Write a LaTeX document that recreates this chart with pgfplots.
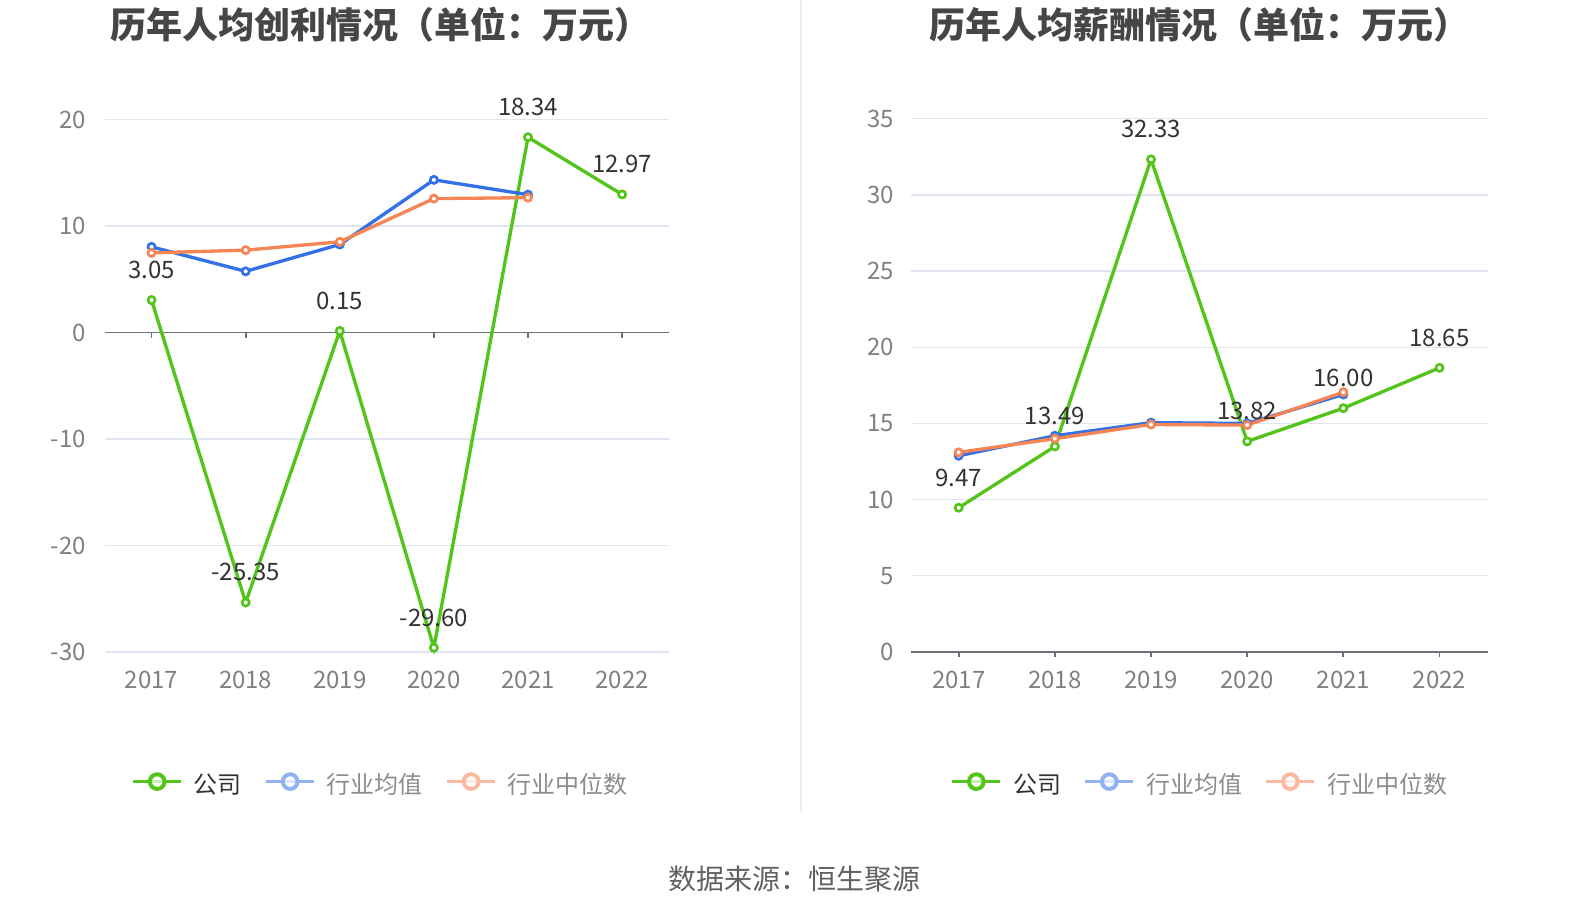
\documentclass[border=0pt]{standalone}
\usepackage{pgfplots}
\pgfplotsset{compat=1.18}
\usepackage{fontspec}
\setmainfont{Noto Sans CJK SC}
\definecolor{cgreen}{RGB}{82,196,26}
\definecolor{cblue}{RGB}{52,112,230}
\definecolor{corange}{RGB}{245,133,85}
\definecolor{lblue}{RGB}{145,177,240}
\definecolor{lorange}{RGB}{250,185,160}
\definecolor{gridc}{RGB}{224,230,241}
\definecolor{axisc}{RGB}{110,112,121}
\definecolor{tickc}{RGB}{128,128,128}
\definecolor{titlec}{RGB}{70,70,70}
\definecolor{labc}{RGB}{51,51,51}
\definecolor{legc}{RGB}{140,140,140}
\definecolor{divc}{RGB}{236,236,236}

\pgfplotsset{
  mystyle/.style={
    scale only axis,
    axis line style={draw=none},
    ymajorgrids, grid style={gridc, line width=1pt},
    ytick style={draw=none},
    xtick style={draw=none},
    xmin=-0.5, xmax=5.5,
    xtick={0,...,5},
    xticklabels={2017,2018,2019,2020,2021,2022},
    tick label style={font=\fontsize{18pt}{18pt}\selectfont, text=tickc, inner sep=0pt},
    xticklabel style={anchor=base, yshift=-27.1pt},
    /pgf/number format/assume math mode=true,
    clip=false,
    legend columns=3,
    legend image code/.code={
      \draw[##1, line width=2.25pt] (0pt,2.3pt) -- (36pt,2.3pt);
      \draw[##1, line width=3pt, fill=white, fill opacity=0.7] (18pt,2.3pt) circle (5.5pt);
    },
    legend style={draw=none, fill=none, inner sep=0pt, outer sep=0pt,
      font=\fontsize{18pt}{18pt}\selectfont,
      nodes={inner sep=0pt},
      /tikz/every even column/.append style={column sep=17pt},
      /tikz/every odd column/.append style={column sep=8.5pt}},
  },
  ser/.style={line width=2.5pt, mark=*, mark size=2.7pt, mark options={fill=white, line width=2pt}},
  lab/.style={nodes near coords, point meta=explicit symbolic,
    every node near coord/.append style={font=\fontsize{18pt}{18pt}\selectfont, text=labc, anchor=base, yshift=16.2pt, inner sep=0pt}},
}

\begin{document}
\begin{tikzpicture}[x=0.75pt, y=0.75pt]
\path[use as bounding box] (0,0) rectangle (1590,918);

\node[anchor=base, font=\fontsize{27pt}{27pt}\selectfont\bfseries, text=titlec] at (380,879) {历年人均创利情况（单位：万元）};
\node[anchor=base, font=\fontsize{27pt}{27pt}\selectfont\bfseries, text=titlec] at (1199,879) {历年人均薪酬情况（单位：万元）};
\node[anchor=base, font=\fontsize{21pt}{21pt}\selectfont, text=black!62] at (794,28.4) {数据来源：恒生聚源};
\draw[divc, line width=1pt] (801,918) -- (801,106);

\begin{axis}[mystyle,
  at={(78.375pt,199.5pt)}, anchor=south west,
  width=423.5pt, height=399.3pt,
  ymin=-30, ymax=20, ytick={-30,-20,-10,0,10,20},
  yticklabel style={anchor=east, xshift=-13.7pt},
  legend style={at={(axis description cs:0.4876,-0.248)}, anchor=center},
]
\draw[axisc, line width=1.3pt] (axis cs:-0.5,0) -- (axis cs:5.5,0);
\pgfplotsinvokeforeach{0,...,5}{\draw[axisc, line width=1.3pt] (axis cs:#1,0) -- ++(0pt,-3.75pt);}
\addlegendimage{cgreen}\addlegendentry[text=labc]{公司}
\addlegendimage{lblue}\addlegendentry[text=legc]{行业均值}
\addlegendimage{lorange}\addlegendentry[text=legc]{行业中位数}
\addplot[ser, cgreen, lab, forget plot] coordinates {(0,3.05)[3.05] (1,-25.35)[-25.35] (2,0.15)[0.15] (3,-29.60)[-29.60] (4,18.34)[18.34] (5,12.97)[12.97]};
\addplot[ser, cblue, forget plot] coordinates {(0,8.05) (1,5.75) (2,8.27) (3,14.34) (4,12.95)};
\addplot[ser, corange, forget plot] coordinates {(0,7.48) (1,7.74) (2,8.52) (3,12.58) (4,12.67)};
\end{axis}

\begin{axis}[mystyle,
  at={(682.95pt,199.5pt)}, anchor=south west,
  width=432.75pt, height=400pt,
  ymin=0, ymax=35, ytick={0,5,...,35},
  yticklabel style={anchor=east, xshift=-12.2pt},
  legend style={at={(axis description cs:0.4998,-0.2476)}, anchor=center},
]
\draw[axisc, line width=1.3pt] (axis cs:-0.5,0) -- (axis cs:5.5,0);
\pgfplotsinvokeforeach{0,...,5}{\draw[axisc, line width=1.3pt] (axis cs:#1,0) -- ++(0pt,-3.75pt);}
\addlegendimage{cgreen}\addlegendentry[text=labc]{公司}
\addlegendimage{lblue}\addlegendentry[text=legc]{行业均值}
\addlegendimage{lorange}\addlegendentry[text=legc]{行业中位数}
\addplot[ser, cgreen, lab, forget plot] coordinates {(0,9.47)[9.47] (1,13.49)[13.49] (2,32.33)[32.33] (3,13.82)[13.82] (4,16.00)[16.00] (5,18.65)[18.65]};
\addplot[ser, cblue, forget plot] coordinates {(0,12.88) (1,14.19) (2,15.05) (3,15.0) (4,16.9)};
\addplot[ser, corange, forget plot] coordinates {(0,13.1) (1,14.0) (2,14.93) (3,14.89) (4,17.05)};
\end{axis}
\end{tikzpicture}
\end{document}
